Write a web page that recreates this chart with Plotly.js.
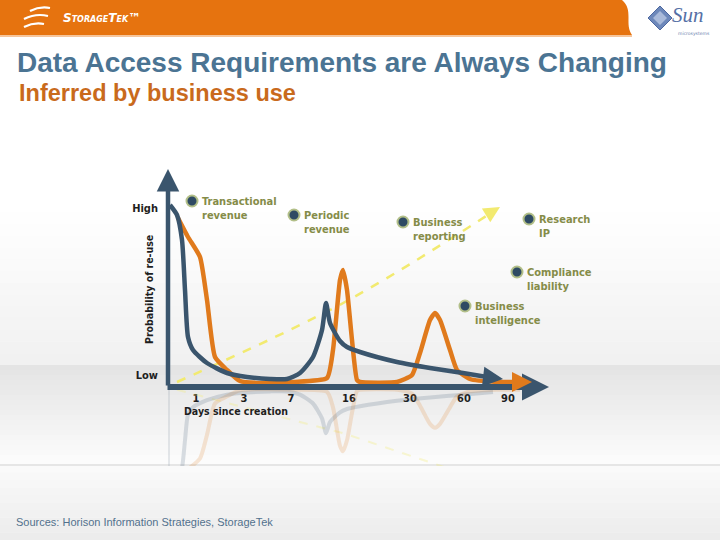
<!DOCTYPE html>
<html>
<head>
<meta charset="utf-8">
<script src="https://cdn.plot.ly/plotly-3.0.1.min.js"></script>
<style>html,body{margin:0;padding:0;background:#ffffff;}#chart{width:720px;height:540px;}</style>
</head>
<body>
<div id="chart"></div>
<script>
// ---------- data (axis units: x = position along "days since creation", y = probability of re-use) ----------
const dayLabels = ["1", "3", "7", "16", "30", "60", "90"];
const dayPos = [28, 76, 123, 181, 242, 296, 340];
const levelLabels = ["High", "Low"];
const levelPos = [179, 12];

const blueX = [2, 9, 14, 17, 20, 25, 39, 59, 79, 102, 119, 132, 145, 154, 158, 162, 172, 179, 192, 229, 262, 295, 325];
const blueY = [182, 172, 147, 97, 50, 37, 24, 14, 10, 8, 8, 14, 30, 57, 84, 64, 46, 40, 35, 25, 19, 14, 9];

const orangeX = [10, 20, 32, 39, 47, 59, 72, 92, 125, 159, 165, 172, 175, 179, 184, 189, 192, 229, 244, 252, 262, 267, 272, 282, 289, 302, 329, 352];
const orangeY = [169, 150, 130, 87, 30, 17, 6, 4, 5, 9, 37, 107, 117, 97, 47, 7, 5, 5, 12, 34, 67, 74, 67, 37, 17, 8, 5, 5];

const trendX = [9, 177, 326];
const trendY = [5, 85, 176];

const useLabels = ["Transactional<br>revenue", "Periodic<br>revenue", "Business<br>reporting", "Research<br>IP", "Compliance<br>liability", "Business<br>intelligence"];
const useX = [24, 126, 235, 361, 349, 297];
const useY = [186, 172, 165, 168, 115, 81];

const reflectScale = 0.55;

// ---------- styling ----------
const W = 720, H = 540;
const BLUE = "#3a556d", ORANGE = "#e07a1c", YELLOW = "#f2ea70";
const OLIVE = "#858c48";
const COND = "DejaVu Sans Condensed, Liberation Sans Narrow, DejaVu Sans, sans-serif";
const px = v => v / W;
const py = v => 1 - v / H;

const shapes = [];
function band(y0, y1, c0, c1, n) {
  const p = s => parseInt(s, 16);
  const a = [p(c0.slice(1,3)), p(c0.slice(3,5)), p(c0.slice(5,7))];
  const b = [p(c1.slice(1,3)), p(c1.slice(3,5)), p(c1.slice(5,7))];
  for (let i = 0; i < n; i++) {
    const t = i / (n - 1);
    const c = a.map((v, k) => Math.round(v + (b[k] - v) * t));
    const ya = y0 + (y1 - y0) * i / n, yb = y0 + (y1 - y0) * (i + 1) / n;
    shapes.push({type: "rect", xref: "paper", yref: "paper", layer: "below",
      x0: 0, x1: 1, y0: py(ya), y1: py(yb) - 0.0005,
      fillcolor: `rgb(${c[0]},${c[1]},${c[2]})`, line: {width: 0}});
  }
}
band(200, 365, "#ffffff", "#f1f1f1", 14);
band(365, 465, "#e4e4e4", "#fcfcfc", 20);
band(465, 540, "#fafafa", "#ececec", 10);
shapes.push({type: "line", xref: "paper", yref: "paper", layer: "below", x0: 0, x1: 1, y0: py(465), y1: py(465), line: {color: "#e6e6e6", width: 2}});

// header band
const hdr = `M 0,${py(0)} L ${px(622)},${py(0)} C ${px(634)},${py(10)} ${px(624)},${py(24)} ${px(632)},${py(35)} L 0,${py(35)} Z`;
shapes.push({type: "path", xref: "paper", yref: "paper", path: hdr, fillcolor: "#e6730f", line: {width: 0}, layer: "below"});
shapes.push({type: "line", xref: "paper", yref: "paper", x0: 0, x1: px(632), y0: py(36), y1: py(36), line: {color: "#f3b27a", width: 1.5}, layer: "below"});
const sw = [
  [[30, 11], [40, 6], [50, 8]],
  [[24, 19], [36, 13], [48, 16]],
  [[24, 27], [34, 22], [44, 24]]
];
sw.forEach(s => {
  shapes.push({type: "path", xref: "paper", yref: "paper", layer: "below",
    path: `M ${px(s[0][0])},${py(s[0][1])} Q ${px(s[1][0])},${py(s[1][1])} ${px(s[2][0])},${py(s[2][1])}`,
    line: {color: "#ffffff", width: 2.2}});
});
shapes.push({type: "path", xref: "paper", yref: "paper", layer: "below",
  path: `M ${px(660)},${py(6)} L ${px(672)},${py(18)} L ${px(660)},${py(30)} L ${px(648)},${py(18)} Z`,
  fillcolor: "#6d88ba", line: {color: "#4d68a0", width: 1}});
shapes.push({type: "path", xref: "paper", yref: "paper", layer: "below",
  path: `M ${px(660)},${py(11)} L ${px(667)},${py(18)} L ${px(660)},${py(25)} L ${px(653)},${py(18)} Z`,
  fillcolor: "#a9bada", line: {width: 0}});

// ---------- traces ----------
const traces = [];
traces.push({x: [0, 0], y: [0, -83], xaxis: "x", yaxis: "y2", mode: "lines", line: {color: "#9aa8b4", width: 4}, opacity: 0.25, hoverinfo: "skip"});
traces.push({x: trendX, y: trendY.map(v => -v * reflectScale), xaxis: "x", yaxis: "y2", mode: "lines", line: {color: YELLOW, width: 2, dash: "dash"}, opacity: 0.3, hoverinfo: "skip"});
traces.push({x: orangeX, y: orangeY.map(v => -v * reflectScale), xaxis: "x", yaxis: "y2", mode: "lines", line: {color: ORANGE, width: 4, shape: "spline", smoothing: 0.6}, opacity: 0.18, hoverinfo: "skip"});
traces.push({x: blueX, y: blueY.map(v => -v * reflectScale), xaxis: "x", yaxis: "y2", mode: "lines", line: {color: BLUE, width: 4, shape: "spline", smoothing: 0.6}, opacity: 0.18, hoverinfo: "skip"});
traces.push({x: trendX, y: trendY, mode: "lines", line: {color: YELLOW, width: 2.5, dash: "dash", shape: "spline"}, hoverinfo: "skip"});
traces.push({x: orangeX, y: orangeY, mode: "lines", line: {color: ORANGE, width: 4.5, shape: "spline", smoothing: 0.5}, hoverinfo: "skip"});
traces.push({x: blueX, y: blueY, mode: "lines", line: {color: BLUE, width: 4.5, shape: "spline", smoothing: 0.6}, hoverinfo: "skip"});
traces.push({x: useX, y: useY, mode: "markers", marker: {size: 11, color: "#2e4a63", line: {color: "#b2bf88", width: 2}}, hoverinfo: "skip", cliponaxis: false});

// ---------- annotations ----------
const ann = [];
function arrow(x, y, ax, ay, color, width, size) {
  ann.push({x: x, y: y, ax: ax, ay: ay, xref: "x", yref: "y", axref: "x", ayref: "y",
    text: "", showarrow: true, arrowhead: 2, arrowsize: size, arrowwidth: width, arrowcolor: color, standoff: 0});
}
arrow(0, 218, 0, 0, BLUE, 4.5, 1);
arrow(381, 0, -2, 0, BLUE, 6, 0.9);
arrow(335, 8, 318, 10, BLUE, 4, 1);
arrow(364, 5, 348, 5, ORANGE, 4, 1);
arrow(332, 180, 322, 174, YELLOW, 2.5, 1.3);

useLabels.forEach((t, i) => {
  ann.push({x: useX[i], y: useY[i], xref: "x", yref: "y", text: t, showarrow: false,
    xanchor: "left", yanchor: "top", align: "left", xshift: 8, yshift: 8,
    font: {family: COND, size: 11, color: OLIVE, weight: 600}});
});

ann.push({x: px(149), y: py(290), xref: "paper", yref: "paper", text: "Probability of re-use", textangle: -90,
  showarrow: false, xanchor: "center", yanchor: "middle", font: {family: COND, size: 10.5, color: "#1e1e1e", weight: "bold"}});
ann.push({x: px(182), y: py(411), xref: "paper", yref: "paper", text: "Days since creation",
  showarrow: false, xanchor: "left", yanchor: "middle", font: {family: COND, size: 10.5, color: "#1e1e1e", weight: "bold"}});

ann.push({x: px(17), y: py(93), xref: "paper", yref: "paper", text: "Inferred by business use",
  showarrow: false, xanchor: "left", yanchor: "middle", font: {family: "Liberation Sans, Arial, sans-serif", size: 23.5, color: "#c96a1c", weight: "bold"}});
ann.push({x: px(14), y: py(522), xref: "paper", yref: "paper", text: "Sources: Horison Information Strategies, StorageTek",
  showarrow: false, xanchor: "left", yanchor: "middle", font: {family: "Liberation Sans, Arial, sans-serif", size: 11, color: "#52718d"}});
ann.push({x: px(61), y: py(18), xref: "paper", yref: "paper", text: "StorageTek™",
  showarrow: false, xanchor: "left", yanchor: "middle", font: {family: "DejaVu Sans, sans-serif", size: 12, color: "#ffffff", weight: "bold", style: "italic", variant: "small-caps"}});
ann.push({x: px(670), y: py(15), xref: "paper", yref: "paper", text: "Sun",
  showarrow: false, xanchor: "left", yanchor: "middle", font: {family: "Liberation Serif, DejaVu Serif, serif", size: 21, color: "#5670a6", style: "italic"}});
ann.push({x: px(676), y: py(33), xref: "paper", yref: "paper", text: "microsystems",
  showarrow: false, xanchor: "left", yanchor: "middle", font: {family: "DejaVu Sans, sans-serif", size: 4.5, color: "#6a7fae"}});

const layout = {
  width: W, height: H, autosize: false,
  margin: {l: 0, r: 0, t: 0, b: 0},
  paper_bgcolor: "rgba(0,0,0,0)", plot_bgcolor: "rgba(0,0,0,0)",
  showlegend: false,
  title: {text: "Data Access Requirements are Always Changing", x: px(17), xanchor: "left", y: py(62), yanchor: "middle",
    font: {family: "Liberation Sans, Arial, sans-serif", size: 28, color: "#4b7493", weight: "bold"}},
  xaxis: {domain: [px(168), px(560)], range: [0, 392], showgrid: false, zeroline: false, showline: false,
    tickmode: "array", tickvals: dayPos, ticktext: dayLabels, ticks: "", ticklabelstandoff: 3,
    tickfont: {family: COND, size: 11, color: "#1e1e1e", weight: "bold"}, fixedrange: true},
  yaxis: {domain: [py(387), py(150)], range: [0, 237], showgrid: false, zeroline: false, showline: false,
    tickmode: "array", tickvals: levelPos, ticktext: levelLabels, ticks: "", ticklabelstandoff: 9,
    tickfont: {family: COND, size: 11, color: "#1e1e1e", weight: "bold"}, fixedrange: true},
  yaxis2: {domain: [py(466), py(387)], range: [-79, 0], visible: false, anchor: "x", fixedrange: true},
  shapes: shapes,
  annotations: ann
};

Plotly.newPlot("chart", traces, layout, {displayModeBar: false, staticPlot: true});
</script>
</body>
</html>
